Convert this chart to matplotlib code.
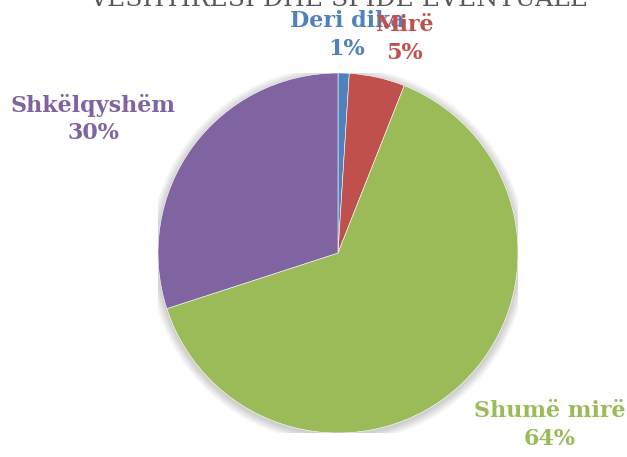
import numpy as np
import matplotlib.pyplot as plt

# 数据
categories = ["Deri dika", "Mirë", "Shumë mirë", "Shkëlqyshëm"]
values = [1, 5, 64, 30]
colors = ["#4F81BD", "#C0504D", "#9BBB59", "#8064A2"]
title = "VESHTIRESI DHE SFIDE EVENTUALE"

# label centres in pixels (layout only)
label_px = [(347, 35), (404, 39), (550, 425), (93, 119)]

W, H = 627, 457
fig = plt.figure(figsize=(W / 100, H / 100), dpi=100)

cx, cy, r = 338, 253, 180
ax = fig.add_axes([(cx - r) / W, (H - cy - r) / H, 2 * r / W, 2 * r / H])

# soft shadow behind the pie
for k in range(8):
    ax.add_patch(plt.Circle((0.0, -0.01), 1.0 + 0.006 * (k + 1), color="black",
                            alpha=0.025, lw=0, zorder=0))

ax.pie(values, colors=colors, startangle=90, counterclock=False,
       radius=1.0, wedgeprops=dict(linewidth=0.4, edgecolor="white"))
ax.set_xlim(-1, 1)
ax.set_ylim(-1, 1)
ax.set_aspect("equal")
ax.axis("off")

total = sum(values)
for name, v, col, (px, py) in zip(categories, values, colors, label_px):
    fig.text(px / W, 1 - py / H, f"{name}\n{round(100 * v / total)}%",
             ha="center", va="center", color=col, fontsize=16,
             fontweight="bold", family="DejaVu Serif", linespacing=1.35)

fig.text(339 / W, 1 - 6 / H, title, ha="center", va="baseline",
         color="#595959", fontsize=18, family="DejaVu Serif")

fig.savefig("out.png", dpi=100)
